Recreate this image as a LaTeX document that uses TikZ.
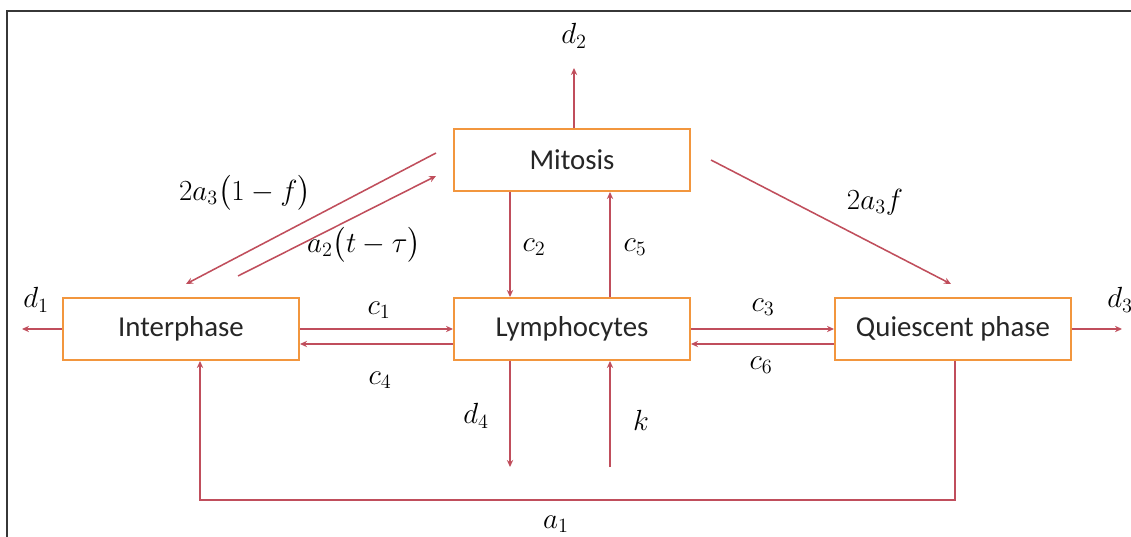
\documentclass[tikz,border=0pt]{standalone}
\usepackage{fontspec}
\setmainfont{Carlito}
\usepackage{amsmath}
\usetikzlibrary{arrows.meta}

\definecolor{flowred}{RGB}{192,78,92}
\definecolor{boxorange}{RGB}{242,150,62}
\definecolor{framegray}{RGB}{55,55,55}

\begin{document}
\begin{tikzpicture}[x=0.025cm,y=-0.025cm,
    phase/.style={draw=boxorange,line width=1.4pt,fill=white,minimum width=5.9cm,
      minimum height=1.55cm,inner sep=0pt,font=\fontsize{20.5}{24}\selectfont,
      text=black!85},
    flow/.style={flowred,line width=1.1pt,-{Stealth[length=5pt,width=4.5pt]}},
    rate/.style={font=\fontsize{21}{25}\selectfont,inner sep=0pt}]
  \useasboundingbox (0,0) rectangle (1131,537);
  \draw[framegray,line width=1.4pt] (7,11) rectangle (1145,550);
  % compartments
  \node[phase] (mit) at (572,160) {Mitosis};
  \node[phase] (int) at (181,329) {Interphase};
  \node[phase] (lym) at (572,329) {Lymphocytes};
  \node[phase] (qui) at (953,329) {Quiescent phase};
  % free ends
  \coordinate (d2end) at (574,68);
  \coordinate (d1end) at (22,329);
  \coordinate (d3end) at (1122,329);
  \coordinate (d4end) at (510,467);
  \coordinate (kbeg) at (610,467);
  \coordinate (mint) at (436,153);
  \coordinate (intm) at (186,284);
  \coordinate (intb) at (238,276);
  \coordinate (mita) at (436,176);
  \coordinate (mitq) at (711,160);
  \coordinate (quim) at (951,284);
  \coordinate (a1r) at (955,500);
  \coordinate (a1l) at (200,500);
  % flows
  \draw[flow] (mit.north -| d2end) -- (d2end);
  \draw[flow] (int.west) -- (d1end);
  \draw[flow] (qui.east) -- (d3end);
  \draw[flow] (int.east) -- (lym.west);
  \draw[flow] ([yshift=-0.375cm]lym.west) -- ([yshift=-0.375cm]int.east);
  \draw[flow] (lym.east) -- (qui.west);
  \draw[flow] ([yshift=-0.375cm]qui.west) -- ([yshift=-0.375cm]lym.east);
  \draw[flow] (mit.south -| d4end) -- (lym.north -| d4end);
  \draw[flow] (lym.north -| kbeg) -- (mit.south -| kbeg);
  \draw[flow] (lym.south -| d4end) -- (d4end);
  \draw[flow] (kbeg) -- (lym.south -| kbeg);
  \draw[flow] (mint) -- (intm);
  \draw[flow] (intb) -- (mita);
  \draw[flow] (mitq) -- (quim);
  \draw[flow] (qui.south -| a1r) -- (a1r) -- (a1l) -- (int.south -| a1l);
  % rates
  \node[rate] (ld2) at (574,36) {$d_2$};
  \node[rate] (ld1) at (36,300) {$d_1$};
  \node[rate] (ld3) at (1120,300) {$d_3$};
  \node[rate] (lc1) at (379,310) {$c_1$};
  \node[rate] (lc4) at (380,380) {$c_4$};
  \node[rate] (lc3) at (763,307) {$c_3$};
  \node[rate] (lc6) at (761,365) {$c_6$};
  \node[rate] (lc2) at (534,247) {$c_2$};
  \node[rate] (lc5) at (635,247) {$c_5$};
  \node[rate] (ld4) at (476,416) {$d_4$};
  \node[rate] (lk) at (641,420) {$k$};
  \node[rate] (la1) at (556,524) {$a_1$};
  \node[rate] (lmi) at (245,193) {$2a_3\bigl(1-f\bigr)$};
  \node[rate] (lmt) at (364,245) {$a_2\bigl(t-\tau\bigr)$};
  \node[rate] (lmq) at (875,202) {$2a_3 f$};
\end{tikzpicture}
\end{document}
